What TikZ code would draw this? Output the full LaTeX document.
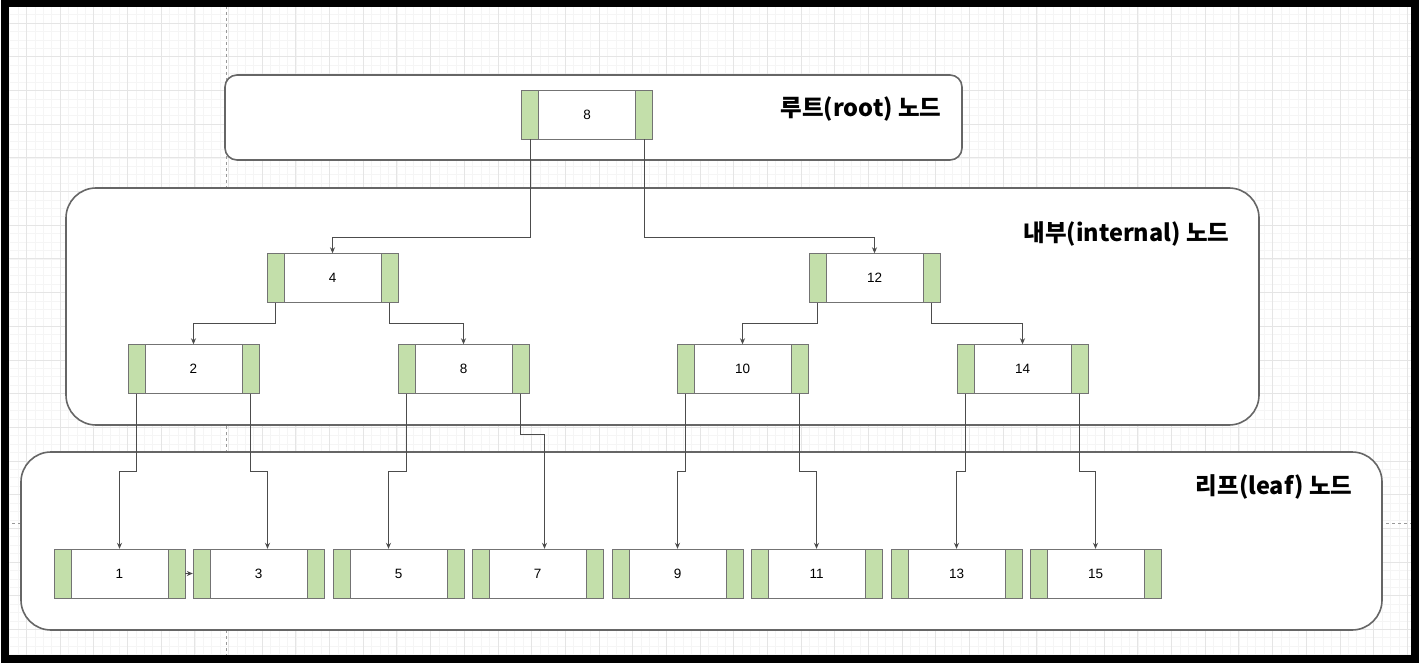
\documentclass[tikz,border=0pt]{standalone}
\usepackage{fontspec}
\setmainfont{Liberation Sans}
\newfontfamily\krfont{Noto Sans CJK KR}
\usetikzlibrary{arrows.meta}

\definecolor{bargreen}{HTML}{C3DFAA}
\tikzstyle{keybox}=[draw=black!55,fill=white,minimum width=131pt,minimum height=49pt,inner sep=0pt,font=\fontsize{13.5}{13.5}\selectfont]
\tikzstyle{bar}=[draw=black!55,fill=bargreen,minimum width=17pt,minimum height=49pt,inner sep=0pt]
\tikzstyle{layer}=[draw=black!60,line width=1.6pt,fill=white]
\tikzstyle{link}=[draw=black!70,line width=0.8pt,-{Stealth[length=6pt,width=5pt]}]
\tikzstyle{title}=[font=\krfont\bfseries\fontsize{23.5}{23.5}\selectfont,anchor=east]
\tikzstyle{minorgrid}=[draw=black!4,line width=0.4pt]
\tikzstyle{majorgrid}=[draw=black!10,line width=0.6pt]

\begin{document}
\begin{tikzpicture}[x=1pt, y=-1pt]
    \useasboundingbox (0,0) rectangle (1426,668);
    % First we draw the background grid
    \begin{scope}
        \clip (5,3) rectangle (1415,659);
        \draw[minorgrid, shift={(26.3,23)}, step=8.42pt] (-40,650) grid (1420,-40);
        \draw[majorgrid, shift={(26.3,23)}, step=33.68pt] (-40,650) grid (1420,-40);
        \draw[black!40, dashed] (226,0) -- (226,668);
        \draw[black!40, dashed] (0,523) -- (1426,523);
    \end{scope}
    \draw[line width=8pt] (5,3.5) rectangle (1415,658.5);

    % The three layers
    \draw[layer, rounded corners=12pt] (225,75) rectangle (962,160);
    \draw[layer, rounded corners=30pt] (66,188) rectangle (1259,425);
    \draw[layer, rounded corners=30pt] (21,452) rectangle (1382,630);
    \node[title] (troot) at (945,109) {루트(root) 노드};
    \node[title] (tinternal) at (1233,234) {내부(internal) 노드};
    \node[title] (tleaf) at (1356,487) {리프(leaf) 노드};

    % Then the key nodes with their pointer bars
    \foreach \pos/\name/\key in {{(587,114.5)/r8/8},
        {(332.5,278)/i4/4}, {(874.5,278)/i12/12},
        {(193.5,369)/i2/2}, {(463.5,369)/i8/8}, {(742.5,369)/i10/10}, {(1022.5,369)/i14/14},
        {(119.5,573.5)/l1/1}, {(258.5,573.5)/l3/3}, {(398.5,573.5)/l5/5}, {(537.5,573.5)/l7/7},
        {(677.5,573.5)/l9/9}, {(816.5,573.5)/l11/11}, {(956.5,573.5)/l13/13}, {(1095.5,573.5)/l15/15}}
    {
        \node[keybox] (\name) at \pos {\key};
        \node[bar, anchor=west] (\name-l) at (\name.west) {};
        \node[bar, anchor=east] (\name-r) at (\name.east) {};
    }

    % Connect bars with child nodes
    \foreach \src/\dst/\drop/\shift in {r8-l/i4/98/0, r8-r/i12/98/0,
        i4-l/i2/21/0, i4-r/i8/21/0, i12-l/i10/21/0, i12-r/i14/21/0,
        i2-l/l1/78/0, i2-r/l3/78/9, i8-l/l5/78/-10, i8-r/l7/41/7,
        i10-l/l9/78/0, i10-r/l11/78/0, i14-l/l13/78/0, i14-r/l15/78/0}
        \draw[link] (\src.south) -- ++(0,\drop) -| ([xshift=\shift pt]\dst.north);

    \draw[link] (l1.east) -- (l3.west);
\end{tikzpicture}
\end{document}
